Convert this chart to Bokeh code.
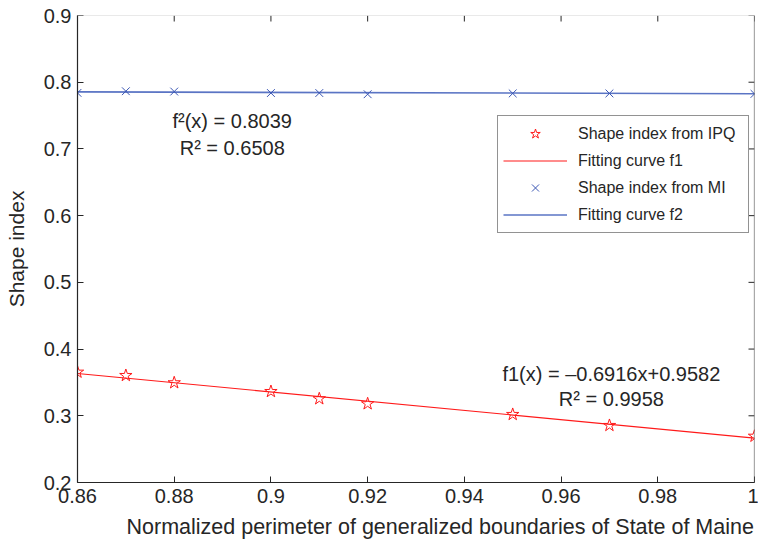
import math
from bokeh.plotting import figure
from bokeh.models import Legend, LegendItem, FixedTicker, Label, Range1d, Span, Title
from bokeh.embed import file_html
from bokeh.resources import INLINE

# ---- data ----
ipq_x = [0.86, 0.87, 0.88, 0.90, 0.91, 0.92, 0.95, 0.97, 1.00]
ipq_y = [0.3654, 0.3604, 0.3495, 0.3364, 0.3255, 0.3180, 0.3020, 0.2855, 0.2694]
mi_x = [0.86, 0.87, 0.88, 0.90, 0.91, 0.92, 0.95, 0.97, 1.00]
mi_y = [0.7840, 0.7865, 0.7860, 0.7838, 0.7838, 0.7820, 0.7832, 0.7832, 0.7825]
fit_x = [0.86, 1.00]
fit1_y = [0.3634, 0.2666]
fit2_y = [0.7855, 0.7828]

x_ticks = [0.86, 0.88, 0.90, 0.92, 0.94, 0.96, 0.98, 1.00]
x_tick_labels = ["0.86", "0.88", "0.9", "0.92", "0.94", "0.96", "0.98", "1"]
y_ticks = [0.2, 0.3, 0.4, 0.5, 0.6, 0.7, 0.8, 0.9]
y_tick_labels = ["0.2", "0.3", "0.4", "0.5", "0.6", "0.7", "0.8", "0.9"]
x_min, x_max = 0.86, 1.00
y_min, y_max = 0.2, 0.9

legend_labels = ["Shape index from IPQ", "Fitting curve f1", "Shape index from MI", "Fitting curve f2"]
x_title = "Normalized perimeter of generalized boundaries of State of Maine"
y_title = "Shape index"

FONT = "Liberation Sans"
AX = "#262626"
RED = "#ff1a1a"
BLUE = "#3a56b4"

p = figure(width=758, height=545, output_backend="svg", toolbar_location=None,
           x_range=Range1d(x_min, x_max), y_range=Range1d(y_min, y_max),
           min_border_left=77, min_border_right=4, min_border_top=15, min_border_bottom=63)
p.outline_line_color = None
p.xgrid.visible = False
p.ygrid.visible = False
p.background_fill_color = "white"

xa = p.xaxis[0]
ya = p.yaxis[0]
for ax, ticks, labels in ((xa, x_ticks, x_tick_labels), (ya, y_ticks, y_tick_labels)):
    ax.ticker = FixedTicker(ticks=ticks)
    ax.major_label_overrides = {t: l for t, l in zip(ticks, labels)}
    ax.minor_tick_line_color = None
    ax.major_tick_in = 6
    ax.major_tick_out = 0
    ax.axis_line_color = AX
    ax.major_tick_line_color = AX
    ax.axis_line_width = 1.2
    ax.major_label_text_font = FONT
    ax.major_label_text_color = AX
    ax.major_label_text_font_size = "20px"
    ax.major_label_standoff = 6

ya.axis_label = y_title
ya.axis_label_text_font = FONT
ya.axis_label_text_font_size = "21px"
ya.axis_label_text_font_style = "normal"
ya.axis_label_text_color = AX
ya.axis_label_standoff = 13

# x-axis title (sits slightly right of centre, as in the original)
p.add_layout(Title(text=x_title, align="left", offset=49, standoff=14,
                   text_font=FONT, text_font_size="21.5px", text_font_style="normal",
                   text_color=AX), "below")

# top and right frame edges with inward ticks
p.add_layout(Span(location=y_max, dimension="width", line_color="#d4d4d4", line_width=1.2))
p.add_layout(Span(location=x_max, dimension="height", line_color="#555555", line_width=1.2))
p.ray(x=x_ticks, y=[y_max] * len(x_ticks), length=6, length_units="screen",
      angle=-math.pi / 2, line_color=AX, line_width=1)
p.ray(x=[x_max] * len(y_ticks), y=y_ticks, length=6, length_units="screen",
      angle=math.pi, line_color=AX, line_width=1)

r_f1 = p.line(fit_x, fit1_y, line_color=RED, line_width=1.2)
r_f2 = p.line(fit_x, fit2_y, line_color="#5a74c4", line_width=1.6)
r_ipq = p.scatter(ipq_x, ipq_y, marker="star", size=13, fill_color=None, line_color=RED, line_width=1)
r_mi = p.scatter(mi_x, mi_y, marker="x", size=11, line_color=BLUE, line_width=1)

legend = Legend(items=[
    LegendItem(label=legend_labels[0], renderers=[r_ipq]),
    LegendItem(label=legend_labels[1], renderers=[r_f1]),
    LegendItem(label=legend_labels[2], renderers=[r_mi]),
    LegendItem(label=legend_labels[3], renderers=[r_f2]),
], location=(420, 249))
legend.label_text_font = FONT
legend.label_text_font_size = "16px"
legend.label_text_color = AX
legend.border_line_color = AX
legend.border_line_width = 1.2
legend.background_fill_alpha = 1
legend.padding = 5
legend.spacing = 2
legend.glyph_height = 25
legend.glyph_width = 64
legend.label_standoff = 11
legend.label_height = 20
legend.label_width = 165
legend.margin = 0
p.add_layout(legend)

ann = [
    ("f²(x) = 0.8039", 0.892, 0.7426),
    ("R² = 0.6508", 0.892, 0.7021),
    ("f1(x) = \u20130.6916x+0.9582", 0.9704, 0.3633),
    ("R² = 0.9958", 0.9704, 0.3258),
]
for t, x, y in ann:
    p.add_layout(Label(x=x, y=y, text=t, text_font=FONT, text_font_size="20px",
                       text_color=AX, text_align="center", text_baseline="middle"))

open("out.html", "w").write(file_html(p, INLINE))
